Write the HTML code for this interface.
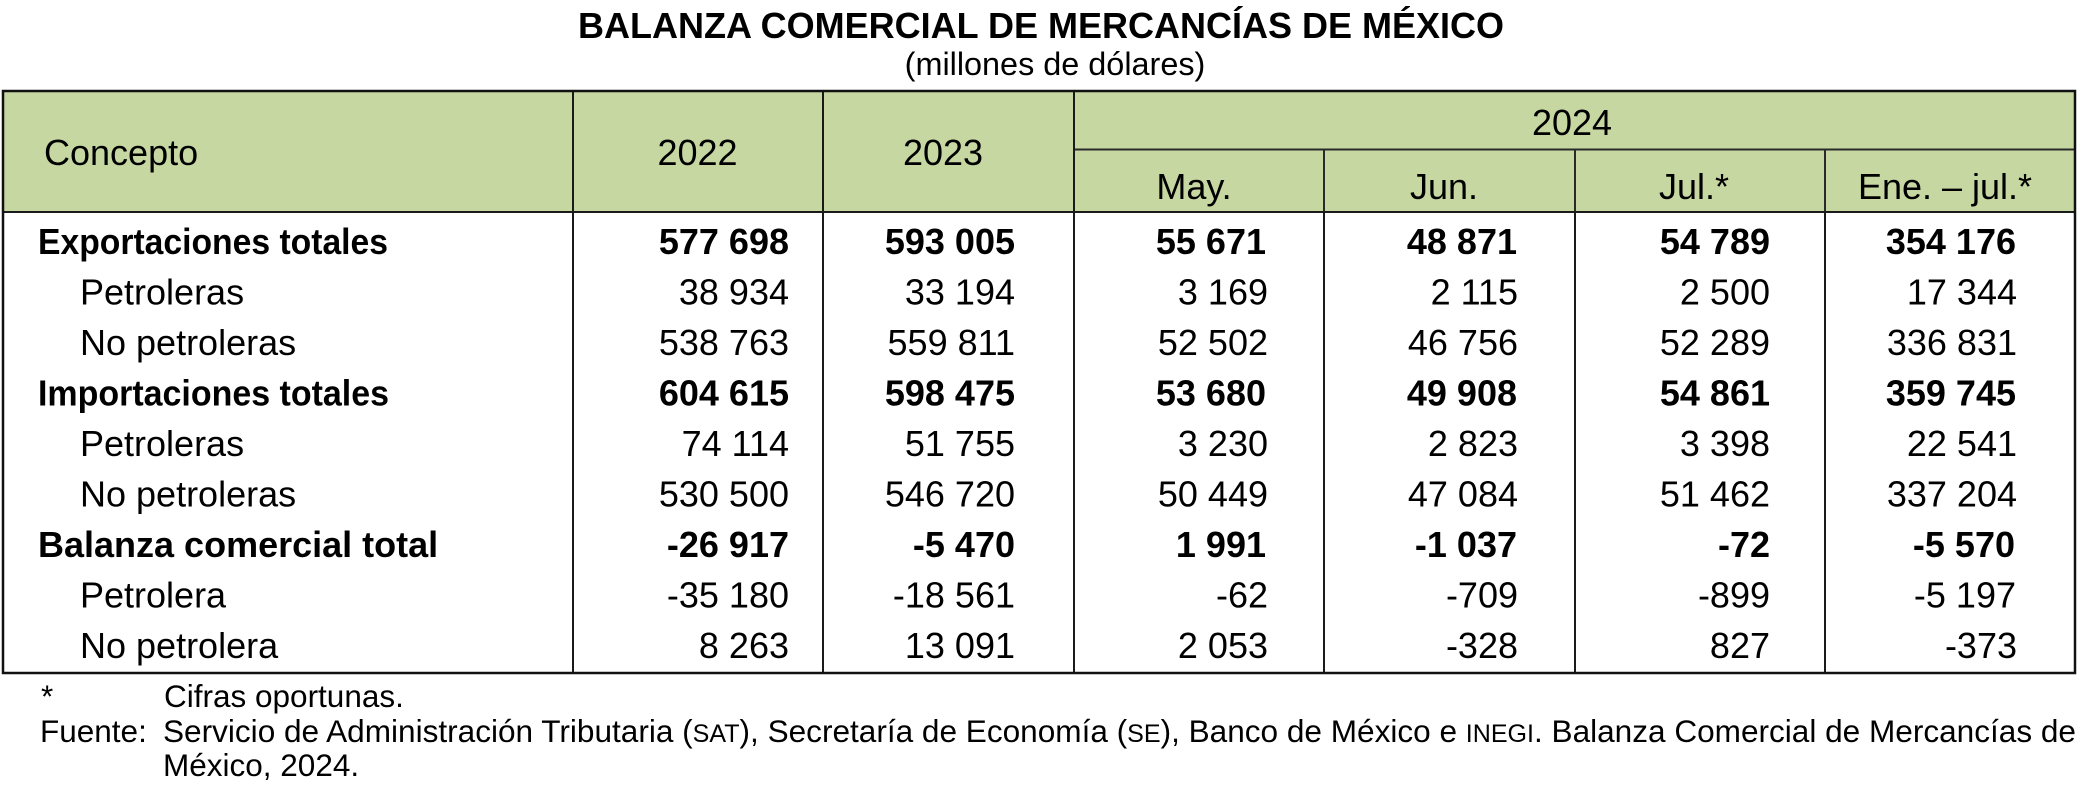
<!DOCTYPE html>
<html>
<head>
<meta charset="utf-8">
<style>
  html, body { margin: 0; padding: 0; background: #ffffff; }
  body { width: 2078px; height: 798px; overflow: hidden; }
  svg { display: block; }
  text { font-family: "Liberation Sans", Arial, sans-serif; fill: #000; }
  .b { font-weight: bold; }
  .t { font-size: 36px; }
  .f { font-size: 31.5px; }
</style>
</head>
<body>
<svg width="2078" height="798" viewBox="0 0 2078 798" xmlns="http://www.w3.org/2000/svg">
  <!-- Title -->
  <text class="t b" x="1041" y="38" text-anchor="middle">BALANZA COMERCIAL DE MERCANCÍAS DE MÉXICO</text>
  <text x="1055" y="75" text-anchor="middle" style="font-size:32.4px">(millones de dólares)</text>

  <!-- Header background -->
  <rect x="3" y="91" width="2072" height="121" fill="#C6D7A1"/>

  <!-- Header internal lines -->
  <line x1="1074" y1="149.5" x2="2075" y2="149.5" stroke="#2a2a2a" stroke-width="2"/>
  <line x1="1324" y1="149" x2="1324" y2="212" stroke="#2a2a2a" stroke-width="2"/>
  <line x1="1575" y1="149" x2="1575" y2="212" stroke="#2a2a2a" stroke-width="2"/>
  <line x1="1825" y1="149" x2="1825" y2="212" stroke="#2a2a2a" stroke-width="2"/>

  <!-- Body vertical lines (full height) -->
  <line x1="573" y1="91" x2="573" y2="673" stroke="#1a1a1a" stroke-width="2"/>
  <line x1="823" y1="91" x2="823" y2="673" stroke="#1a1a1a" stroke-width="2"/>
  <line x1="1074" y1="91" x2="1074" y2="673" stroke="#1a1a1a" stroke-width="2"/>
  <line x1="1324" y1="212" x2="1324" y2="673" stroke="#1a1a1a" stroke-width="2"/>
  <line x1="1575" y1="212" x2="1575" y2="673" stroke="#1a1a1a" stroke-width="2"/>
  <line x1="1825" y1="212" x2="1825" y2="673" stroke="#1a1a1a" stroke-width="2"/>

  <!-- Header bottom -->
  <line x1="3" y1="212" x2="2075" y2="212" stroke="#1a1a1a" stroke-width="2"/>

  <!-- Outer border -->
  <rect x="3" y="91" width="2072" height="582" fill="none" stroke="#111" stroke-width="2.5"/>

  <!-- Header text -->
  <text class="t" x="44" y="165">Concepto</text>
  <text class="t" x="697.5" y="165" text-anchor="middle">2022</text>
  <text class="t" x="943" y="165" text-anchor="middle">2023</text>
  <text class="t" x="1572" y="135" text-anchor="middle">2024</text>
  <text class="t" x="1194" y="199" text-anchor="middle">May.</text>
  <text class="t" x="1444" y="199" text-anchor="middle">Jun.</text>
  <text class="t" x="1694" y="199" text-anchor="middle">Jul.*</text>
  <text class="t" x="1945" y="199" text-anchor="middle">Ene. – jul.*</text>

  <!-- Row 1 -->
  <g class="t b">
    <text x="38" y="254" textLength="350" lengthAdjust="spacingAndGlyphs">Exportaciones totales</text>
    <text x="789" y="254" text-anchor="end">577 698</text>
    <text x="1015" y="254" text-anchor="end">593 005</text>
    <text x="1266" y="254" text-anchor="end">55 671</text>
    <text x="1517" y="254" text-anchor="end">48 871</text>
    <text x="1770" y="254" text-anchor="end">54 789</text>
    <text x="2016" y="254" text-anchor="end">354 176</text>
  </g>
  <!-- Row 2 -->
  <g class="t">
    <text x="80" y="304.5">Petroleras</text>
    <text x="789" y="304.5" text-anchor="end">38 934</text>
    <text x="1015" y="304.5" text-anchor="end">33 194</text>
    <text x="1268" y="304.5" text-anchor="end">3 169</text>
    <text x="1518" y="304.5" text-anchor="end">2 115</text>
    <text x="1770" y="304.5" text-anchor="end">2 500</text>
    <text x="2017" y="304.5" text-anchor="end">17 344</text>
  </g>
  <!-- Row 3 -->
  <g class="t">
    <text x="80" y="355">No petroleras</text>
    <text x="789" y="355" text-anchor="end">538 763</text>
    <text x="1015" y="355" text-anchor="end">559 811</text>
    <text x="1268" y="355" text-anchor="end">52 502</text>
    <text x="1518" y="355" text-anchor="end">46 756</text>
    <text x="1770" y="355" text-anchor="end">52 289</text>
    <text x="2017" y="355" text-anchor="end">336 831</text>
  </g>
  <!-- Row 4 -->
  <g class="t b">
    <text x="38" y="405.5" textLength="351" lengthAdjust="spacingAndGlyphs">Importaciones totales</text>
    <text x="789" y="405.5" text-anchor="end">604 615</text>
    <text x="1015" y="405.5" text-anchor="end">598 475</text>
    <text x="1266" y="405.5" text-anchor="end">53 680</text>
    <text x="1517" y="405.5" text-anchor="end">49 908</text>
    <text x="1770" y="405.5" text-anchor="end">54 861</text>
    <text x="2016" y="405.5" text-anchor="end">359 745</text>
  </g>
  <!-- Row 5 -->
  <g class="t">
    <text x="80" y="456">Petroleras</text>
    <text x="789" y="456" text-anchor="end">74 114</text>
    <text x="1015" y="456" text-anchor="end">51 755</text>
    <text x="1268" y="456" text-anchor="end">3 230</text>
    <text x="1518" y="456" text-anchor="end">2 823</text>
    <text x="1770" y="456" text-anchor="end">3 398</text>
    <text x="2017" y="456" text-anchor="end">22 541</text>
  </g>
  <!-- Row 6 -->
  <g class="t">
    <text x="80" y="506.5">No petroleras</text>
    <text x="789" y="506.5" text-anchor="end">530 500</text>
    <text x="1015" y="506.5" text-anchor="end">546 720</text>
    <text x="1268" y="506.5" text-anchor="end">50 449</text>
    <text x="1518" y="506.5" text-anchor="end">47 084</text>
    <text x="1770" y="506.5" text-anchor="end">51 462</text>
    <text x="2017" y="506.5" text-anchor="end">337 204</text>
  </g>
  <!-- Row 7 -->
  <g class="t b">
    <text x="38" y="557">Balanza comercial total</text>
    <text x="789" y="557" text-anchor="end">-26 917</text>
    <text x="1015" y="557" text-anchor="end">-5 470</text>
    <text x="1266" y="557" text-anchor="end">1 991</text>
    <text x="1517" y="557" text-anchor="end">-1 037</text>
    <text x="1770" y="557" text-anchor="end">-72</text>
    <text x="2015" y="557" text-anchor="end">-5 570</text>
  </g>
  <!-- Row 8 -->
  <g class="t">
    <text x="80" y="607.5">Petrolera</text>
    <text x="789" y="607.5" text-anchor="end">-35 180</text>
    <text x="1015" y="607.5" text-anchor="end">-18 561</text>
    <text x="1268" y="607.5" text-anchor="end">-62</text>
    <text x="1518" y="607.5" text-anchor="end">-709</text>
    <text x="1770" y="607.5" text-anchor="end">-899</text>
    <text x="2016" y="607.5" text-anchor="end">-5 197</text>
  </g>
  <!-- Row 9 -->
  <g class="t">
    <text x="80" y="658">No petrolera</text>
    <text x="789" y="658" text-anchor="end">8 263</text>
    <text x="1015" y="658" text-anchor="end">13 091</text>
    <text x="1268" y="658" text-anchor="end">2 053</text>
    <text x="1518" y="658" text-anchor="end">-328</text>
    <text x="1770" y="658" text-anchor="end">827</text>
    <text x="2017" y="658" text-anchor="end">-373</text>
  </g>

  <!-- Footnotes -->
  <g class="f">
    <text x="41" y="707">*</text>
    <text x="164" y="707">Cifras oportunas.</text>
    <text x="40" y="742">Fuente:</text>
    <text x="163" y="742" textLength="1913" lengthAdjust="spacingAndGlyphs">Servicio de Administración Tributaria (<tspan style="font-size:25px">SAT</tspan>), Secretaría de Economía (<tspan style="font-size:25px">SE</tspan>), Banco de México e <tspan style="font-size:25px">INEGI</tspan>. Balanza Comercial de Mercancías de</text>
    <text x="163" y="776">México, 2024.</text>
  </g>
</svg>
</body>
</html>
